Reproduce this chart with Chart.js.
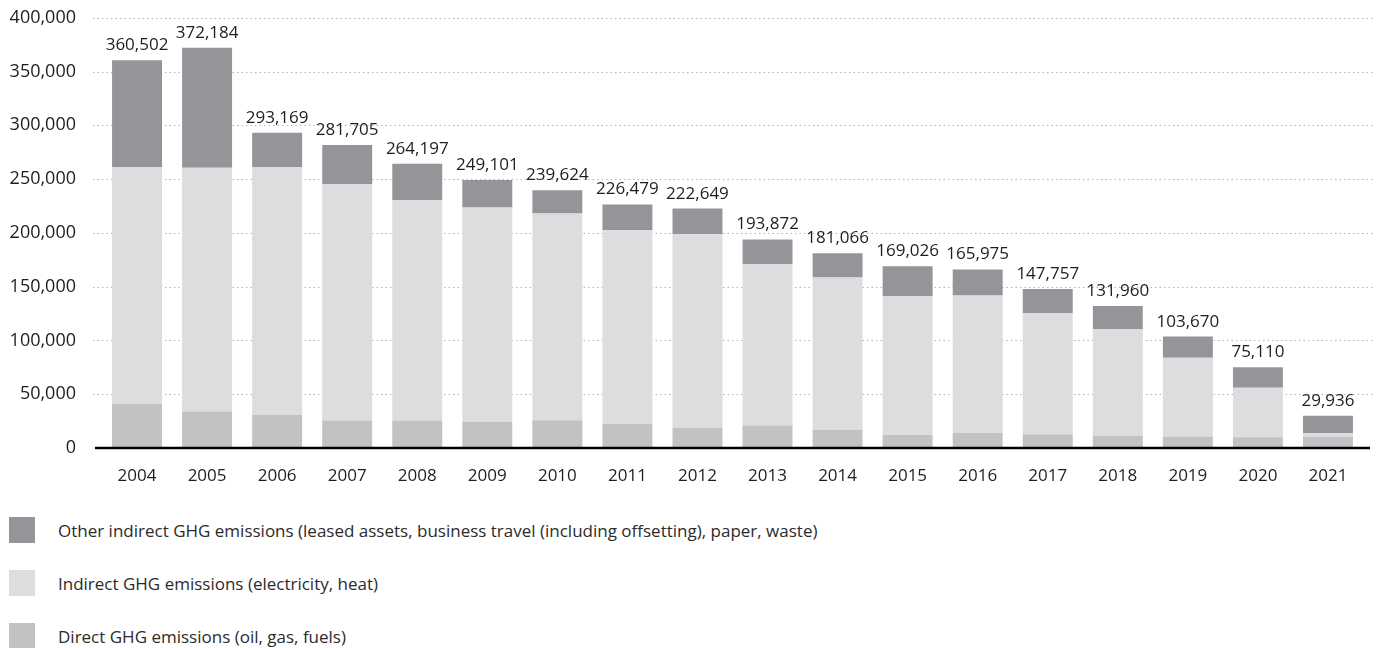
<!DOCTYPE html>
<html>
<head>
<meta charset="utf-8">
<script src="https://cdn.jsdelivr.net/npm/chart.js@4/dist/chart.umd.min.js"></script>
<style>
  html, body { margin: 0; padding: 0; background: #fff; }
  body { width: 1378px; height: 648px; overflow: hidden; font-family: "Open Sans", sans-serif; }
  #wrap { position: relative; width: 1378px; height: 509px; margin-top: -19px; }
  #legend { position: relative; margin: 0; padding: 0; list-style: none; }
  #legend li { position: absolute; left: 9px; height: 26px; display: flex; align-items: center; color: #2b2b2b; font-size: 17px; white-space: nowrap; }
  #legend li span.box { width: 26px; height: 26px; margin-right: 23px; display: inline-block; }
</style>
</head>
<body>
<div id="wrap"><canvas id="chart"></canvas></div>
<ul id="legend"></ul>
<script>
// values (tonnes CO2e)
const years = ['2004','2005','2006','2007','2008','2009','2010','2011','2012','2013','2014','2015','2016','2017','2018','2019','2020','2021'];
const direct   = [41000, 34000, 31000, 25600, 25600, 24100, 25700, 22300, 18600, 21000, 17000, 12000, 13900, 12700, 11400, 10500, 9900, 10500];
const indirect = [220000, 226500, 230000, 219900, 204900, 199500, 192300, 180200, 180400, 150000, 141500, 129000, 127800, 112600, 99300, 73300, 46100, 3400];
const other    = [99502, 111684, 32169, 36205, 33697, 25501, 21624, 23979, 23649, 22872, 22566, 28026, 24275, 22457, 21260, 19870, 19110, 16036];
const totals   = [360502, 372184, 293169, 281705, 264197, 249101, 239624, 226479, 222649, 193872, 181066, 169026, 165975, 147757, 131960, 103670, 75110, 29936];
const yTicks   = [0, 50000, 100000, 150000, 200000, 250000, 300000, 350000, 400000];

const COLORS = { direct: '#c1c2c4', indirect: '#dcdddf', other: '#939598' };
const LEGEND = [
  { label: 'Other indirect GHG emissions (leased assets, business travel (including offsetting), paper, waste)', color: COLORS.other },
  { label: 'Indirect GHG emissions (electricity, heat)', color: COLORS.indirect },
  { label: 'Direct GHG emissions (oil, gas, fuels)', color: COLORS.direct }
];

const FONT = '"Open Sans", sans-serif';
const fmt = v => v.toLocaleString('en-US');

// dotted grid + black baseline, slightly wider than the bar area
const gridPlugin = {
  id: 'dottedGrid',
  beforeDatasetsDraw(chart) {
    const { ctx, chartArea, scales: { y } } = chart;
    ctx.save();
    ctx.strokeStyle = '#b4b4b4';
    ctx.lineWidth = 1;
    ctx.setLineDash([1.5, 3]);
    yTicks.forEach(v => {
      if (v === 0) return;
      const py = Math.round(y.getPixelForValue(v)) + 0.5;
      ctx.beginPath();
      ctx.moveTo(chartArea.left - 9, py);
      ctx.lineTo(chartArea.right + 12, py);
      ctx.stroke();
    });
    ctx.restore();
  },
  afterDatasetsDraw(chart) {
    const { ctx, chartArea, scales: { y } } = chart;
    const py = y.getPixelForValue(0);
    ctx.save();
    ctx.strokeStyle = '#000';
    ctx.lineWidth = 2.5;
    ctx.beginPath();
    ctx.moveTo(chartArea.left - 7, py);
    ctx.lineTo(chartArea.right + 7, py);
    ctx.stroke();
    ctx.restore();
  }
};

const totalsPlugin = {
  id: 'totals',
  afterDatasetsDraw(chart) {
    const { ctx, scales: { x, y } } = chart;
    ctx.save();
    ctx.fillStyle = '#1e1e1e';
    ctx.font = '17px ' + FONT;
    ctx.textAlign = 'center';
    ctx.textBaseline = 'alphabetic';
    totals.forEach((t, i) => {
      ctx.fillText(fmt(t), x.getPixelForValue(i), y.getPixelForValue(t) - 10);
    });
    ctx.restore();
  }
};

function bars(label, data, color) {
  return {
    label, data,
    backgroundColor: color,
    borderWidth: 0,
    categoryPercentage: 1,
    barPercentage: 0.713
  };
}

function renderChart() {
  const ctx = document.getElementById('chart').getContext('2d');
  new Chart(ctx, {
    type: 'bar',
    data: {
      labels: years,
      datasets: [
        bars('Direct GHG emissions (oil, gas, fuels)', direct, COLORS.direct),
        bars('Indirect GHG emissions (electricity, heat)', indirect, COLORS.indirect),
        bars('Other indirect GHG emissions', other, COLORS.other)
      ]
    },
    options: {
      responsive: true,
      maintainAspectRatio: false,
      animation: false,
      layout: { padding: { top: 0, right: 15, left: 0, bottom: 0 } },
      plugins: { legend: { display: false }, tooltip: { enabled: false } },
      scales: {
        x: {
          stacked: true,
          grid: { display: false, drawTicks: false },
          border: { display: false },
          ticks: { color: '#1e1e1e', font: { family: FONT, size: 17 }, padding: 18, maxRotation: 0 },
          afterFit(scale) { scale.height = 42; }
        },
        y: {
          stacked: true,
          min: 0, max: 400000,
          afterBuildTicks(scale) { scale.ticks = yTicks.map(v => ({ value: v })); },
          grid: { display: false, drawTicks: false },
          border: { display: false },
          ticks: { color: '#1e1e1e', font: { family: FONT, size: 18 }, padding: 26, callback: v => fmt(v) },
          afterFit(scale) { scale.width = 102; }
        }
      }
    },
    plugins: [gridPlugin, totalsPlugin]
  });
}

function renderLegend() {
  const ul = document.getElementById('legend');
  LEGEND.forEach((item, i) => {
    const li = document.createElement('li');
    li.style.top = (27 + i * 53) + 'px';
    li.innerHTML = '<span class="box" style="background:' + item.color + '"></span>' + item.label;
    ul.appendChild(li);
  });
}

renderChart();
renderLegend();
</script>
</body>
</html>
